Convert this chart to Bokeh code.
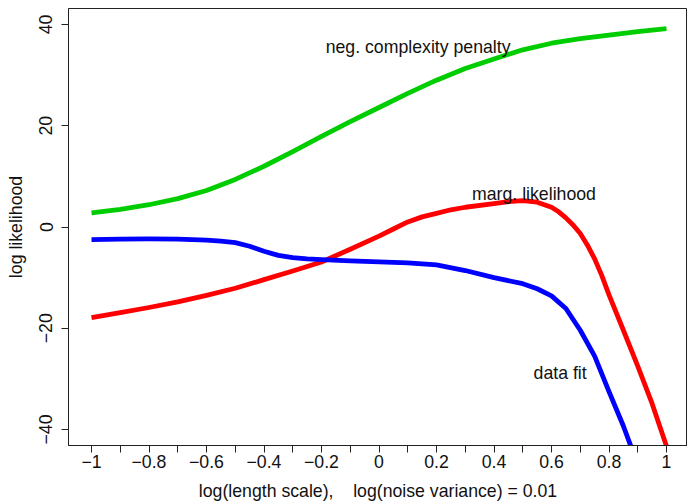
from bokeh.plotting import figure
from bokeh.models import Range1d, FixedTicker, LinearAxis, Label
from bokeh.embed import file_html
from bokeh.resources import INLINE

# ---- data ----
x_pen = [-1.0, -0.9, -0.8, -0.7, -0.6, -0.5, -0.4, -0.3, -0.2, -0.1, 0.0,
         0.1, 0.2, 0.3, 0.4, 0.5, 0.6, 0.7, 0.8, 0.9, 1.0]
penalty = [2.8, 3.5, 4.4, 5.6, 7.2, 9.4, 12.0, 14.9, 17.9, 20.8, 23.6,
           26.4, 29.0, 31.3, 33.2, 35.0, 36.3, 37.2, 37.9, 38.6, 39.2]

x_fit = [-1.0, -0.9, -0.8, -0.7, -0.6, -0.55, -0.5, -0.45, -0.4, -0.35,
         -0.3, -0.25, -0.2, -0.1, 0.0, 0.1, 0.2, 0.3, 0.4, 0.5, 0.55, 0.6,
         0.65, 0.7, 0.75, 0.8, 0.85, 0.9, 0.95, 1.0]
fit = [-2.5, -2.4, -2.35, -2.4, -2.6, -2.8, -3.1, -3.8, -4.8, -5.6,
       -6.05, -6.3, -6.45, -6.7, -6.9, -7.1, -7.5, -8.6, -10.0, -11.2, -12.2,
       -13.6, -16.1, -20.4, -25.5, -32.5, -39.3, -47.0, -55.0, -63.0]

x_marg = [-1.0, -0.9, -0.8, -0.7, -0.6, -0.5, -0.4, -0.3, -0.2, -0.1, 0.0,
          0.05, 0.1, 0.15, 0.2, 0.25, 0.3, 0.4, 0.45, 0.5, 0.55, 0.6, 0.625,
          0.65, 0.675, 0.7, 0.725, 0.75, 0.775, 0.8, 0.85, 0.9, 0.95, 1.0]
marg = [-17.9, -16.9, -15.9, -14.8, -13.5, -12.1, -10.4, -8.7, -6.9, -4.4,
        -1.8, -0.4, 1.0, 2.0, 2.7, 3.4, 3.9, 4.6, 5.0, 5.2, 4.9, 3.9, 3.0,
        1.8, 0.4, -1.3, -3.6, -6.3, -9.6, -13.4, -20.4, -27.5, -34.9, -43.3]

x_ticks = [-1.0, -0.8, -0.6, -0.4, -0.2, 0.0, 0.2, 0.4, 0.6, 0.8, 1.0]
x_tick_labels = ["\u22121", "\u22120.8", "\u22120.6", "\u22120.4", "\u22120.2",
                 "0", "0.2", "0.4", "0.6", "0.8", "1"]
x_minor = [-0.9, -0.7, -0.5, -0.3, -0.1, 0.1, 0.3, 0.5, 0.7, 0.9]
y_ticks = [-40, -20, 0, 20, 40]
y_tick_labels = ["\u221240", "\u221220", "0", "20", "40"]

x_title = "log(length scale),\u00a0\u00a0\u00a0\u00a0log(noise variance) = 0.01"
y_title = "log likelihood"
curve_names = ["neg. complexity penalty", "marg. likelihood", "data fit"]

# ---- styling / layout ----
FONT = "Liberation Sans"
FS = "17.7px"
AX = "#222222"
Y_MIN, Y_MAX = -43.16, 43.16

p = figure(frame_width=619, frame_height=437,
           x_range=Range1d(-1.08, 1.073), y_range=Range1d(Y_MIN, Y_MAX),
           x_axis_type=None, y_axis_type=None,
           output_backend="svg", toolbar_location=None,
           min_border_left=68, min_border_right=0, min_border_top=8,
           min_border_bottom=59)
# plot box (R's box around the plotting region)
p.outline_line_color = AX
p.outline_line_width = 1
p.outline_line_alpha = 1.0
p.background_fill_color = "white"
p.border_fill_color = "white"

def style_axis(ax):
    ax.axis_line_color = AX
    ax.axis_line_width = 1
    ax.major_tick_line_color = AX
    ax.minor_tick_line_color = AX
    ax.major_label_text_font = FONT
    ax.major_label_text_font_size = FS
    ax.major_label_text_color = "#111111"
    ax.axis_label_text_font = FONT
    ax.axis_label_text_font_size = FS
    ax.axis_label_text_font_style = "normal"
    ax.axis_label_text_color = "#111111"

xaxis = LinearAxis(ticker=FixedTicker(ticks=x_ticks, minor_ticks=x_minor),
                   major_label_overrides=dict(zip(x_ticks, x_tick_labels)),
                   axis_label=x_title)
style_axis(xaxis)
xaxis.major_tick_out = 7
xaxis.major_tick_in = 0
xaxis.minor_tick_out = 7
xaxis.minor_tick_in = 0
xaxis.major_label_standoff = 2
xaxis.axis_label_standoff = 10
p.add_layout(xaxis, "below")

yaxis = LinearAxis(ticker=FixedTicker(ticks=y_ticks, minor_ticks=[]),
                   major_label_overrides=dict(zip(y_ticks, y_tick_labels)),
                   axis_label=y_title)
style_axis(yaxis)
yaxis.major_tick_out = 7
yaxis.major_tick_in = 0
yaxis.minor_tick_out = 0
yaxis.minor_tick_in = 0
yaxis.major_label_orientation = "parallel"
yaxis.major_label_standoff = 9
yaxis.axis_label_standoff = 11
p.add_layout(yaxis, "left")

LW = 4.8
p.line(x_pen, penalty, line_color="#00CD00", line_width=LW, line_join="round")
p.line(x_marg, marg, line_color="#FF0000", line_width=LW, line_join="round")
p.line(x_fit, fit, line_color="#0000FF", line_width=LW, line_join="round")

label_pos = [(0.136, 35.6), (0.539, 6.5), (0.630, -28.9)]
for name, (lx, ly) in zip(curve_names, label_pos):
    p.add_layout(Label(x=lx, y=ly, text=name, text_align="center",
                       text_baseline="alphabetic", text_font=FONT,
                       text_font_size=FS, text_color="#111111"))

open("out.html", "w").write(file_html(p, INLINE))
